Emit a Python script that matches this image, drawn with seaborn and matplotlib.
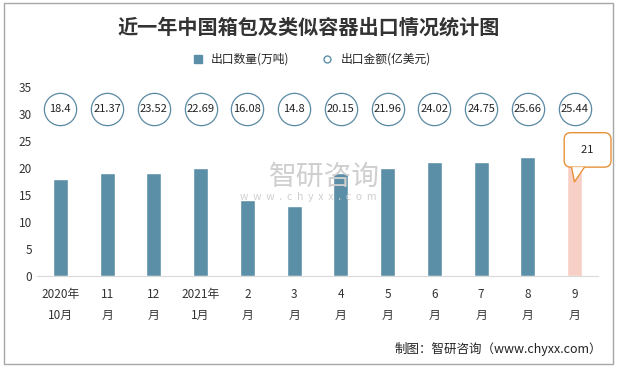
import numpy as np
import pandas as pd
import seaborn as sns
import matplotlib.pyplot as plt
from matplotlib.lines import Line2D
from matplotlib.patches import Rectangle, Polygon

sns.set_style("white")
plt.rcParams['font.family'] = ['Noto Sans CJK SC', 'DejaVu Sans']

months = ["2020年\n10月", "11\n月", "12\n月", "2021年\n1月", "2\n月", "3\n月",
          "4\n月", "5\n月", "6\n月", "7\n月", "8\n月", "9\n月"]
volume = [18, 19, 19, 20, 14, 13, 19, 20, 21, 21, 22, 21]          # 出口数量(万吨)
amount = [18.4, 21.37, 23.52, 22.69, 16.08, 14.8, 20.15, 21.96,
          24.02, 24.75, 25.66, 25.44]                               # 出口金额(亿美元)

bar_color = "#5B8FA8"
hi_color = "#F8CFC4"
call_color = "#E8913A"
circle_row = 30.8   # height of the circle row

df = pd.DataFrame({"month": months, "volume": volume, "amount": amount})
colors = [bar_color] * (len(months) - 1) + [hi_color]

fig = plt.figure(figsize=(6.17, 3.67), dpi=100)
ax = fig.add_axes([0.06, 0.248, 0.909, 0.516])

# watermark
fig.text(0.525, 0.518, "智研咨询", fontsize=20, color="#CFCFCF", ha="center",
         va="center", zorder=0)
fig.text(0.5, 0.463, "w  w  w  .  c  h  y  x  x  .  c  o  m", fontsize=7.5,
         color="#CFCFCF", ha="center", va="center", zorder=0)

sns.barplot(data=df, x="month", y="volume", hue="month", palette=colors,
            legend=False, width=0.32, ax=ax, saturation=1)
ax.patch.set_alpha(0)

xs = np.arange(len(months))
ax.scatter(xs, [circle_row] * len(xs), s=540, facecolor="white",
           edgecolor="#5A88A3", linewidth=0.9, zorder=3, clip_on=False)
for x, v in zip(xs, amount):
    ax.text(x, circle_row, f"{v:g}", ha="center", va="center", fontsize=8,
            color="#222222", zorder=4)

ax.set_ylim(0, 35)
ax.set_xlim(-0.5, len(months) - 0.5)
ax.set_yticks(range(0, 36, 5))
ax.set_xlabel("")
ax.set_ylabel("")
for s in ["top", "right", "left"]:
    ax.spines[s].set_visible(False)
ax.spines["bottom"].set_color("#D9D9D9")
ax.tick_params(axis="both", length=0, labelsize=8.5, colors="#333333")
ax.tick_params(axis="x", pad=9)
for lbl in ax.get_xticklabels():
    lbl.set_linespacing(1.7)

# callout on the last bar
last = len(months) - 1
call = ax.text(last + 0.28, 23.3, f"  {volume[last]}  ", ha="center", va="center",
               fontsize=8, color="#222222", zorder=5, clip_on=False,
               bbox=dict(boxstyle="round,pad=1.1,rounding_size=0.6", fc="white",
                         ec=call_color, lw=1))
fig.canvas.draw()
bb = call.get_bbox_patch().get_window_extent()
tip = ax.transData.transform((last, 17.4))
inv = ax.transData.inverted()
p_left = inv.transform((tip[0] - 3, bb.y0))
p_right = inv.transform((tip[0] + 10, bb.y0))
p_tip = inv.transform(tip)
ax.add_patch(Polygon([p_left, p_tip, p_right], closed=True, fc="white",
                     ec="none", zorder=6, clip_on=False))
ax.plot([p_left[0], p_tip[0], p_right[0]], [p_left[1], p_tip[1], p_right[1]],
        color=call_color, lw=1, zorder=7, clip_on=False)

fig.text(0.5, 0.925, "近一年中国箱包及类似容器出口情况统计图", ha="center",
         va="center", fontsize=14.5, weight="bold", color="#333333")

handles = [Line2D([], [], marker="s", ls="", color=bar_color, markersize=6),
           Line2D([], [], marker="o", ls="", mfc="white", mec=bar_color,
                  markersize=5)]
fig.legend(handles, ["出口数量(万吨)", "出口金额(亿美元)"], loc="center",
           bbox_to_anchor=(0.5, 0.838), ncol=2, frameon=False, fontsize=8.5,
           handletextpad=0.1, columnspacing=2.2)

fig.text(0.975, 0.05, "制图：智研咨询（www.chyxx.com）", ha="right", va="center",
         fontsize=9, color="#222222")

fig.add_artist(Rectangle((0.007, 0.008), 0.986, 0.984, transform=fig.transFigure,
                         fill=False, ec="#A6A6A6", lw=1))

plt.savefig("out.png", dpi=100)
